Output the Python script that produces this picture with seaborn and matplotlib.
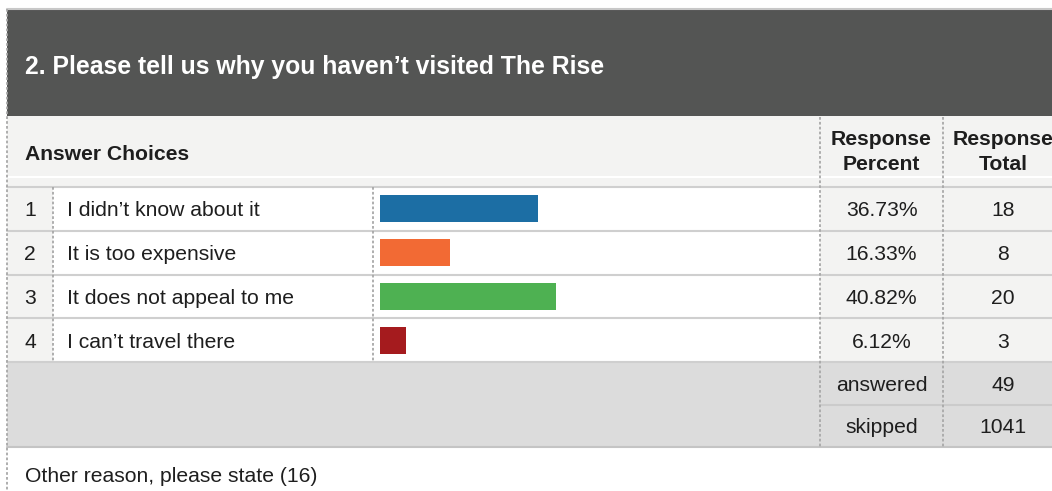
import matplotlib
matplotlib.use("Agg")
import matplotlib.pyplot as plt
from matplotlib.patches import Rectangle
import seaborn as sns
import pandas as pd

title = "2. Please tell us why you haven\u2019t visited The Rise"
choices = ["I didn\u2019t know about it", "It is too expensive",
           "It does not appeal to me", "I can\u2019t travel there"]
percents = [36.73, 16.33, 40.82, 6.12]
totals = [18, 8, 20, 3]
bar_colors = ["#1c6ea4", "#f26a34", "#4eb152", "#a51b1e"]
summary_labels = ["answered", "skipped"]
summary_values = [49, 1041]
footer = "Other reason, please state (16)"

sns.set_theme(style="white")
plt.rcParams['font.family'] = ['Liberation Sans', 'DejaVu Sans']

W, H = 1052, 491
fig = plt.figure(figsize=(W / 100, H / 100), dpi=100)
bg = fig.add_axes([0, 0, 1, 1])
bg.set_xlim(0, W)
bg.set_ylim(H, 0)
bg.axis("off")

DARK = "#545554"
LIGHT = "#f3f3f2"
SUMG = "#dcdcdc"
LINE = "#cfcfcf"
DOT = "#a8a8a8"
TXT = "#1e1e1e"
BODY = 15.2

x_left, x_num, x_txt, x_pct, x_tot, x_right = 7, 53, 373, 820, 943, W
y_top, y_hdr, y_sub, y_rows = 9, 116, 177, 187
row_h = 43.75
n = len(choices)
y_sum = y_rows + n * row_h
sum_h = 42.5
y_sum_end = y_sum + 2 * sum_h

def rect(x0, y0, x1, y1, c):
    bg.add_patch(Rectangle((x0, y0), x1 - x0, y1 - y0, facecolor=c, edgecolor="none", zorder=1))

# title band
rect(x_left, y_top, x_right, y_hdr, DARK)
bg.plot([x_left, x_right], [y_top, y_top], color="#c8c8c8", lw=1.5, zorder=2)
bg.text(25, 64, title, color="white", fontsize=17.8, fontweight="bold",
        va="center_baseline", ha="left", zorder=3)
# header band
rect(x_left, y_hdr, x_right, y_rows, LIGHT)
bg.plot([x_left, x_right], [y_sub, y_sub], color="white", lw=1.5, zorder=2)
bg.text(25, 152, "Answer Choices", color=TXT, fontsize=BODY, fontweight="bold",
        va="center_baseline", zorder=3)
bg.text((x_pct + x_tot) / 2, 152, "Response\nPercent", color=TXT, fontsize=BODY, fontweight="bold",
        va="center", ha="center", linespacing=1.38, zorder=3)
bg.text(1003, 152, "Response\nTotal", color=TXT, fontsize=BODY, fontweight="bold",
        va="center", ha="center", linespacing=1.38, zorder=3)

# rows
for i in range(n):
    y0 = y_rows + i * row_h
    rect(x_left, y0, x_num, y0 + row_h, LIGHT)
    rect(x_num, y0, x_pct, y0 + row_h, "white")
    rect(x_pct, y0, x_right, y0 + row_h, LIGHT)
    yc = y0 + row_h / 2
    bg.text(30, yc, str(i + 1), color=TXT, fontsize=BODY, ha="center", va="center_baseline", zorder=3)
    bg.text(67, yc, choices[i], color=TXT, fontsize=BODY, ha="left", va="center_baseline", zorder=3)
    bg.text((x_pct + x_tot) / 2, yc, f"{percents[i]:.2f}%", color=TXT, fontsize=BODY,
            ha="center", va="center_baseline", zorder=3)
    bg.text(1003, yc, str(totals[i]), color=TXT, fontsize=BODY, ha="center",
            va="center_baseline", zorder=3)

for i in range(n + 1):
    y = y_rows + i * row_h
    bg.plot([x_left, x_right], [y, y], color=LINE, lw=1.5, zorder=2)

# summary
rect(x_left, y_sum + 1, x_right, y_sum_end, SUMG)
for j in range(2):
    yc = y_sum + j * sum_h + sum_h / 2
    bg.text((x_pct + x_tot) / 2, yc, summary_labels[j], color=TXT, fontsize=BODY,
            ha="center", va="center_baseline", zorder=3)
    bg.text(1003, yc, str(summary_values[j]), color=TXT, fontsize=BODY,
            ha="center", va="center_baseline", zorder=3)
bg.plot([x_pct, x_right], [y_sum + sum_h, y_sum + sum_h], color="#cbcbcb", lw=1.5, zorder=2)
bg.plot([x_left, x_right], [y_sum_end, y_sum_end], color="#c4c4c4", lw=1.5, zorder=2)

bg.text(25, 475, footer, color=TXT, fontsize=BODY, ha="left", va="center_baseline", zorder=3)

# dotted vertical lines
dot = dict(color=DOT, lw=1.3, linestyle=(0, (1.5, 1.2)), zorder=2)
bg.plot([x_left, x_left], [y_top, H], **dot)
for x in (x_num, x_txt):
    bg.plot([x, x], [y_rows, y_sum], **dot)
for x in (x_pct, x_tot):
    bg.plot([x, x], [y_hdr + 1, y_sum_end], **dot)

# bar chart (seaborn) in the bar column
bx0, bx1 = 380, 811
bax = fig.add_axes([bx0 / W, 1 - y_sum / H, (bx1 - bx0) / W, (y_sum - y_rows) / H])
bax.patch.set_alpha(0)
df = pd.DataFrame({"choice": choices, "percent": percents})
sns.barplot(data=df, x="percent", y="choice", hue="choice", palette=bar_colors, legend=False,
            orient="h", width=0.62, ax=bax, saturation=1, linewidth=0)
bax.set_xlim(0, 100)
bax.set_ylim(n - 0.5, -0.5)
bax.axis("off")

fig.savefig("out.png", dpi=100)
